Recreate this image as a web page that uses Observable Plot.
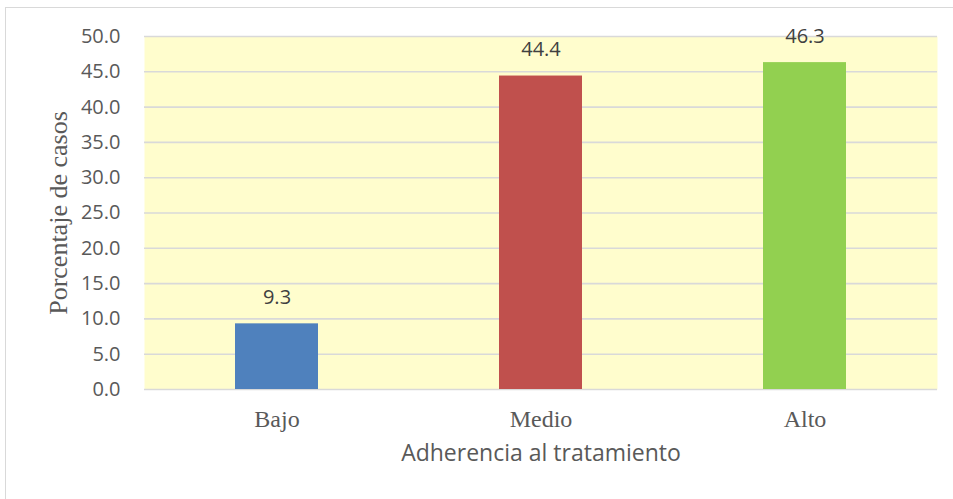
<!DOCTYPE html>
<html>
<head>
<meta charset="utf-8">
<script src="https://cdn.jsdelivr.net/npm/d3@7"></script>
<script src="https://cdn.jsdelivr.net/npm/@observablehq/plot@0.6"></script>
<style>
  html, body { margin: 0; padding: 0; background: #fff; overflow: hidden; }
  #wrap { position: relative; width: 953px; height: 499px; }
  #frame { position: absolute; left: 5px; top: 7px; width: 980px; height: 520px; border: 1px solid #d9d9d9; box-sizing: border-box; pointer-events: none; }
  #chart { position: absolute; left: 0; top: 0; }
</style>
</head>
<body>
<div id="wrap"><div id="frame"></div><div id="chart"></div></div>
<script>
const categories = ["Bajo", "Medio", "Alto"];
const values = [9.3, 44.4, 46.3];
const colors = ["#4f81bd", "#c0504d", "#92d050"];
const yTicks = [0, 5, 10, 15, 20, 25, 30, 35, 40, 45, 50];
const yLabel = "Porcentaje de casos";
const xLabel = "Adherencia al tratamiento";

const data = categories.map((c, i) => ({cat: c, value: values[i], color: colors[i]}));

const chart = Plot.plot({
  width: 953,
  height: 499,
  marginLeft: 144,
  marginRight: 16,
  marginTop: 36,
  marginBottom: 110,
  style: {fontFamily: "'Open Sans', sans-serif", background: "transparent", overflow: "visible"},
  x: {domain: categories, paddingInner: 0.686, paddingOuter: 0.343, label: null, axis: null},
  y: {domain: [0, 50], label: null, axis: null},
  marks: [
    Plot.frame({fill: "#fffdcd", stroke: null}),
    Plot.gridY(yTicks, {stroke: "#d9d9d9", strokeOpacity: 1, strokeWidth: 1.6}),
    Plot.barY(data, {x: "cat", y: "value", fill: "color"}),
    Plot.text(data, {x: "cat", y: "value", text: d => d.value.toFixed(1), dy: -26, fontSize: 20, fill: "#404040"}),
    Plot.axisY(yTicks, {tickSize: 0, tickPadding: 24, tickFormat: d => d.toFixed(1), fontSize: 20, fill: "#595959", label: null}),
    Plot.axisX({tickSize: 0, tickPadding: 20, fontSize: 24, fontFamily: "'Liberation Serif', serif", fill: "#595959", label: null}),
    Plot.text([yLabel], {frameAnchor: "left", textAnchor: "middle", dx: -86, rotate: -90, fontSize: 26, fontFamily: "'Liberation Serif', serif", fill: "#595959"}),
    Plot.text([xLabel], {frameAnchor: "bottom", dy: 71, fontSize: 23, fill: "#595959"})
  ]
});
document.getElementById("chart").appendChild(chart);
</script>
</body>
</html>
